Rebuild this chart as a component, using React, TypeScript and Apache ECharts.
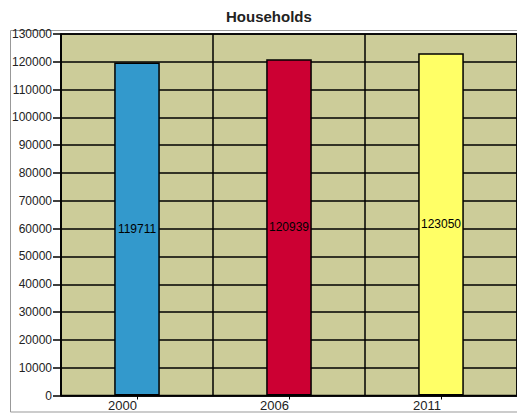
import React, { useEffect, useRef } from "react";
import * as echarts from "echarts";

const categories = ["2000", "2006", "2011"];
const values = [119711, 120939, 123050];
const barColors = ["#3399CC", "#CC0033", "#FFFF66"];
const title = "Households";

export default function App() {
  const ref = useRef<HTMLDivElement>(null);
  useEffect(() => {
    if (!ref.current) return;
    const chart = echarts.init(ref.current, undefined, { renderer: "svg" });
    chart.setOption({
      animation: false,
      backgroundColor: "#ffffff",
      title: {
        text: title,
        left: 221,
        top: 4,
        textStyle: { fontFamily: "Liberation Sans", fontSize: 15, fontWeight: "bold", color: "#222" },
      },
      graphic: [
        {
          type: "rect",
          shape: { x: 10.5, y: 30.5, width: 520, height: 381.5 },
          style: { fill: "none", stroke: "#999999", lineWidth: 1 },
          z: -1,
        },
      ],
      grid: {
        left: 61,
        top: 34,
        right: 0,
        bottom: 17.5,
        show: true,
        backgroundColor: "#CCCC99",
        borderColor: "#000",
        borderWidth: 1.5,
      },
      xAxis: {
        type: "category",
        data: categories,
        axisLine: { lineStyle: { color: "#000", width: 1.5 } },
        axisTick: { show: true, alignWithLabel: true, length: 4, lineStyle: { color: "#000" } },
        axisLabel: {
          align: "right",
          margin: 3,
          fontFamily: "Liberation Sans",
          fontSize: 13,
          color: "#222",
        },
        splitLine: { show: true, lineStyle: { color: "#000", width: 1.5 } },
      },
      yAxis: {
        type: "value",
        min: 0,
        max: 130000,
        interval: 10000,
        axisLine: { show: true, lineStyle: { color: "#000", width: 1.5 } },
        axisTick: { show: true, length: 8, lineStyle: { color: "#000", width: 1.5 } },
        axisLabel: {
          margin: 9,
          fontFamily: "Liberation Sans",
          fontSize: 12,
          color: "#222",
          formatter: (v: number) => String(v),
        },
        splitLine: { show: true, lineStyle: { color: "#000", width: 1.5 } },
      },
      series: [
        {
          type: "bar",
          barWidth: "30%",
          data: values.map((v, i) => ({
            value: v,
            itemStyle: { color: barColors[i], borderColor: "#000", borderWidth: 1.5 },
          })),
          label: {
            show: true,
            position: "inside",
            color: "#000",
            fontFamily: "Liberation Sans",
            fontSize: 12,
          },
        },
      ],
    });
    return () => chart.dispose();
  }, []);
  return (
    <div
      ref={ref}
      style={{ position: "fixed", left: 0, top: 0, width: 517, height: 413 }}
    />
  );
}
